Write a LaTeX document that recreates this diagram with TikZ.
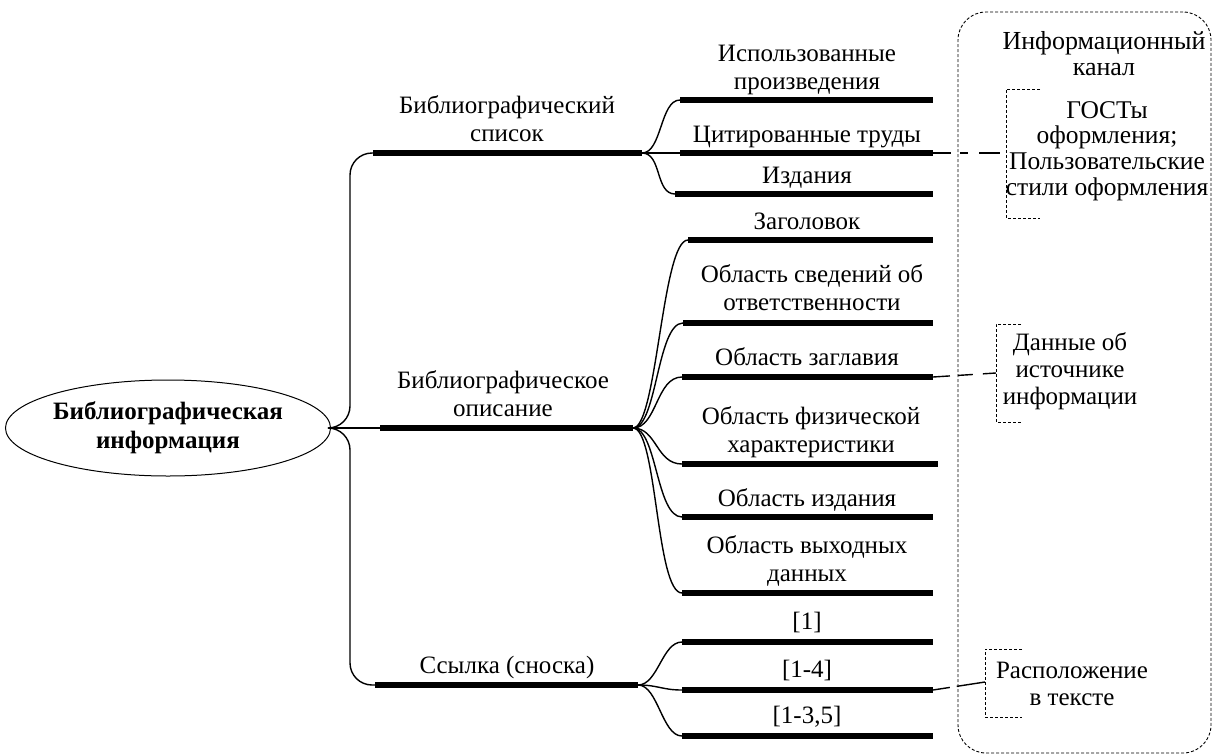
\documentclass[tikz,border=0pt]{standalone}
\usepackage{fontspec}
\setmainfont{Liberation Serif}
\usetikzlibrary{shapes.geometric}
\begin{document}
\begin{tikzpicture}[x=1pt,y=-1pt,
  bar/.style={line width=6pt},
  thinl/.style={line width=1.4pt},
  lbl/.style={anchor=south, inner sep=0pt, align=center, font=\fontsize{25}{28}\selectfont, text depth=0pt},
  rtxt/.style={inner sep=0pt, align=center},
  finedash/.style={line width=0.9pt, dash pattern=on 3pt off 2pt},
  ]
\useasboundingbox (0,0) rectangle (1212,755);

% root
\node[ellipse, draw, line width=1pt, minimum width=313pt, minimum height=96pt,
      inner sep=0pt, align=center, font=\bfseries\fontsize{25}{29}\selectfont] (root) at (168,428)
      {Библиографическая\\информация};

% first level bars
\coordinate (Ls) at (373,153); \coordinate (Le) at (642,153);
\coordinate (Os) at (380,428); \coordinate (Oe) at (633,428);
\coordinate (Ss) at (375,685); \coordinate (Se) at (638,685);
\draw[bar] (Ls) -- (Le);
\draw[bar] (Os) -- (Oe);
\draw[bar] (Ss) -- (Se);
\node[lbl] (tL) at (507,142) {Библиографический\\список};
\node[lbl] (tO) at (503,417) {Библиографическое\\описание};
\node[lbl] (tS) at (507,674) {Ссылка (сноска)};

\draw[thinl, rounded corners=22pt] (root.east) -| ([xshift=-23pt]Ls) -- (Ls);
\draw[thinl] (root.east) -- (Os);
\draw[thinl, rounded corners=22pt] (root.east) -| ([xshift=-25pt]Ss) -- (Ss);

% second level: list
\coordinate (U1s) at (680,100); \coordinate (U1e) at (933,100);
\coordinate (U2s) at (680,153); \coordinate (U2e) at (933,153);
\coordinate (U3s) at (675,194); \coordinate (U3e) at (933,194);
% description
\coordinate (M1s) at (688,240); \coordinate (M1e) at (933,240);
\coordinate (M2s) at (683,323); \coordinate (M2e) at (933,323);
\coordinate (M3s) at (682,377); \coordinate (M3e) at (933,377);
\coordinate (M4s) at (682,464); \coordinate (M4e) at (938,464);
\coordinate (M5s) at (682,517); \coordinate (M5e) at (933,517);
\coordinate (M6s) at (682,593); \coordinate (M6e) at (933,593);
% references
\coordinate (S1s) at (682,642); \coordinate (S1e) at (933,642);
\coordinate (S2s) at (682,690); \coordinate (S2e) at (933,690);
\coordinate (S3s) at (682,736); \coordinate (S3e) at (933,736);

\foreach \b in {U1,U2,U3,M1,M2,M3,M4,M5,M6,S1,S2,S3}{\draw[bar] (\b s) -- (\b e);}

\foreach \b in {U1,U2,U3}{\draw[thinl] (Le) .. controls +(20,0) and +(-20,0) .. (\b s);}
\foreach \b in {M1,M2,M3,M4,M5,M6}{\draw[thinl] (Oe) .. controls +(24,0) and +(-26,0) .. (\b s);}
\foreach \b in {S1,S2,S3}{\draw[thinl] (Se) .. controls +(20,0) and +(-20,0) .. (\b s);}

\node[lbl] (tU1) at (807,90)  {Использованные\\произведения};
\node[lbl] (tU2) at (807,143) {Цитированные труды};
\node[lbl] (tU3) at (807,184) {Издания};
\node[lbl] (tM1) at (807,230) {Заголовок};
\node[lbl] (tM2) at (812,311) {Область сведений об\\ответственности};
\node[lbl] (tM3) at (807,366) {Область заглавия};
\node[lbl] (tM4) at (811,453) {Область физической\\характеристики};
\node[lbl] (tM5) at (807,507) {Область издания};
\node[lbl] (tM6) at (807,582) {Область выходных\\данных};
\node[lbl] (tS1) at (807,630) {[1]};
\node[lbl] (tS2) at (807,678) {[1-4]};
\node[lbl] (tS3) at (807,724) {[1-3,5]};

% information channel
\node[draw, finedash, rounded corners=28pt, minimum width=253pt, minimum height=741pt, inner sep=0pt]
   (chan) at (1084.5,382.5) {};
\node[rtxt, font=\fontsize{26}{26}\selectfont] (tchan) at (1104,54) {Информационный\\канал};

% bracket 1
\coordinate (b1) at (1006,153);
\draw[finedash] (1040,89) -- (1006,89) -- (1006,218) -- (1040,218);
\node[rtxt, font=\fontsize{25.5}{25.7}\selectfont] (g1) at (1107,151) {ГОСТы\\оформления;\\Пользовательские\\стили оформления};
% bracket 2
\coordinate (b2) at (996,373);
\draw[finedash] (1021,324) -- (996,324) -- (996,422) -- (1021,422);
\node[rtxt, font=\fontsize{25}{27}\selectfont] (g2) at (1070,371) {Данные об\\источнике\\информации};
% bracket 3
\coordinate (b3) at (985,682);
\draw[finedash] (1022,649) -- (985,649) -- (985,717) -- (1022,717);
\node[rtxt, font=\fontsize{25}{27}\selectfont] (g3) at (1072,684) {Расположение\\в тексте};

% connectors
\draw[line width=1.4pt, dash pattern=on 18pt off 9pt on 8pt off 11pt on 21pt off 8pt] (U2e) -- (b1);
\draw[line width=1.4pt, dash pattern=on 17pt off 8pt on 15pt off 10pt on 14pt off 8pt] (M3e) -- (b2);
\draw[line width=1.4pt, dash pattern=on 17pt off 7pt on 30pt off 8pt] (S2e) -- (b3);
\end{tikzpicture}
\end{document}
